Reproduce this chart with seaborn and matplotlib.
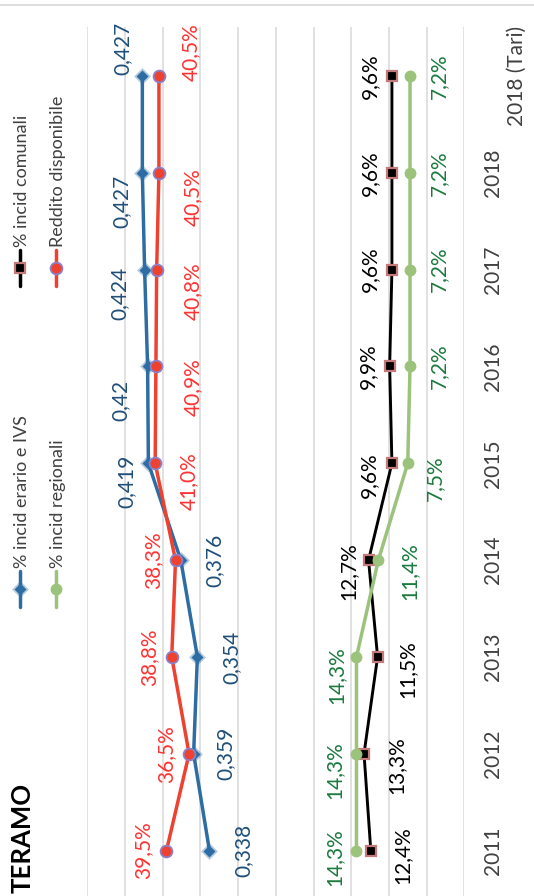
import numpy as np
import pandas as pd
import matplotlib
matplotlib.use("Agg")
import matplotlib.pyplot as plt
import matplotlib.transforms as mtransforms
from matplotlib.lines import Line2D
import seaborn as sns

years = ["2011", "2012", "2013", "2014", "2015", "2016", "2017", "2018", "2018 (Tari)"]
erario = [0.338, 0.359, 0.354, 0.376, 0.419, 0.420, 0.424, 0.427, 0.427]
reddito = [0.395, 0.365, 0.388, 0.383, 0.410, 0.409, 0.408, 0.405, 0.405]
comunali = [0.124, 0.133, 0.115, 0.127, 0.096, 0.099, 0.096, 0.096, 0.096]
regionali = [0.143, 0.143, 0.143, 0.114, 0.075, 0.072, 0.072, 0.072, 0.072]

# label nudges in pixels (right, down), as the labels were moved by hand in the original
erario_nudge = [(32, 0), (30, 0), (32, 0), (32, 0), (-24, 18), (-29, 34), (-27, 24), (-23, 29), (-22, -28)]
reddito_nudge = [(-25, 0), (-25, 0), (-24, 0), (-24, 0), (32, 18), (35, 21), (34, 22), (32, 24), (30, -24)]
comunali_nudge = [(30, 5), (30, 11), (28, 12), (-22, 11), (-25, 12), (-24, 0), (-24, 0), (-24, 0), (-24, 0)]
regionali_nudge = [(-24, 7), (-24, 16), (-22, 18), (29, 11), (25, 15), (27, 0), (27, 0), (27, 0), (27, 0)]

BLUE, RED, BLACK, GREEN = "#2E6DA4", "#EE4130", "#000000", "#9BC37B"
FS = 15

sns.set_style("white")
plt.rcParams["font.family"] = ["Lato", "DejaVu Sans"]

W, H, DPI = 534, 896, 100
fig = plt.figure(figsize=(W / DPI, H / DPI), dpi=DPI)
ax = fig.add_axes([87.3 / W, 0, 377 / W, (H - 27.5) / H])

df = pd.DataFrame({"pos": np.arange(len(years)), "year": years,
                   "erario": erario, "reddito": reddito,
                   "comunali": comunali, "regionali": regionali})

series = [
    ("erario", "% incid erario e IVS", BLUE, dict(marker="D", markersize=6.5, markerfacecolor=BLUE,
                                                   markeredgecolor=(0.18, 0.43, 0.64, 0.35), markeredgewidth=2.5)),
    ("reddito", "Reddito disponibile", RED, dict(marker="o", markersize=8.5, markerfacecolor=RED,
                                                  markeredgecolor="#8C80C8", markeredgewidth=1.3)),
    ("comunali", "% incid comunali", BLACK, dict(marker="s", markersize=7.5, markerfacecolor=BLACK,
                                                  markeredgecolor="#C47A7A", markeredgewidth=1.6)),
    ("regionali", "% incid regionali", GREEN, dict(marker="o", markersize=7.5, markerfacecolor=GREEN,
                                                    markeredgecolor=GREEN, markeredgewidth=1)),
]
for col, name, color, mk in series:
    lw = 2.1 if col == "comunali" else 2.5
    sns.lineplot(data=df, x=col, y="pos", orient="y", sort=False, color=color,
                 linewidth=lw, ax=ax, **mk)

# data labels
fmt_dec = lambda v: f"{v:g}".replace(".", ",")
fmt_pct = lambda v: f"{v * 100:.1f}%".replace(".", ",")
labels = [
    (erario, erario_nudge, fmt_dec, "#1F4E79"),
    (reddito, reddito_nudge, fmt_pct, "#FF3333"),
    (comunali, comunali_nudge, fmt_pct, "#000000"),
    (regionali, regionali_nudge, fmt_pct, "#1B7A3E"),
]
k = 72 / DPI
for vals, nudges, fmt, c in labels:
    for i, (v, (dx, dy)) in enumerate(zip(vals, nudges)):
        ax.annotate(fmt(v), xy=(v, i), xytext=((dx + 2) * k, -dy * k), textcoords="offset points",
                    rotation=90, ha="center", va="center", fontsize=FS, color=c)

ax.set_xlim(0.5, 0)
ax.set_ylim(-0.5 + 3 / 96.8, 8.5)
ax.set_xticks(np.arange(0, 0.51, 0.05))
ax.grid(axis="x", color="#D9D9D9", linewidth=1.1)
ax.grid(axis="y", visible=False)
ax.tick_params(axis="x", length=0, labelbottom=False)
ax.set_xlabel("")
ax.set_ylabel("")
ax.yaxis.tick_right()
ax.set_yticks(range(len(years)))
ax.set_yticklabels(years, rotation=90, va="center", fontsize=FS, color="#404040")
ax.tick_params(axis="y", length=0, pad=13.5)
for lbl in ax.get_yticklabels():
    if "Tari" in lbl.get_text():
        lbl.set_transform(lbl.get_transform() + mtransforms.ScaledTranslation(24 / DPI, 0, fig.dpi_scale_trans))
for s in ax.spines.values():
    s.set_visible(False)

# top border line
fig.add_artist(Line2D([0, 1], [1 - 5 / H] * 2, color="#D9D9D9", linewidth=1.2, transform=fig.transFigure))

# title
fig.text(23 / W, 1 - 838 / H, "TERAMO", rotation=90, fontsize=18.5, fontweight="bold",
         ha="center", va="center", color="#000000")

# legend, drawn by hand since it is rotated
legend_items = [
    ("erario", "% incid erario e IVS", 20, 589),
    ("comunali", "% incid comunali", 20, 268),
    ("regionali", "% incid regionali", 56, 589),
    ("reddito", "Reddito disponibile", 56, 268),
]
style = {col: (color, mk) for col, _, color, mk in series}
for col, name, px, py in legend_items:
    color, mk = style[col]
    fx = px / W
    fig.add_artist(Line2D([fx, fx], [1 - (py - 18) / H, 1 - (py + 18) / H], color=color,
                          linewidth=2.5, transform=fig.transFigure))
    fig.add_artist(Line2D([fx], [1 - py / H], linestyle="none", transform=fig.transFigure, **mk))
    fig.text((px + 2) / W, 1 - (py - 21) / H, name, rotation=90, ha="center", va="bottom",
             fontsize=13, color="#404040")

fig.savefig("out.png", dpi=DPI)
